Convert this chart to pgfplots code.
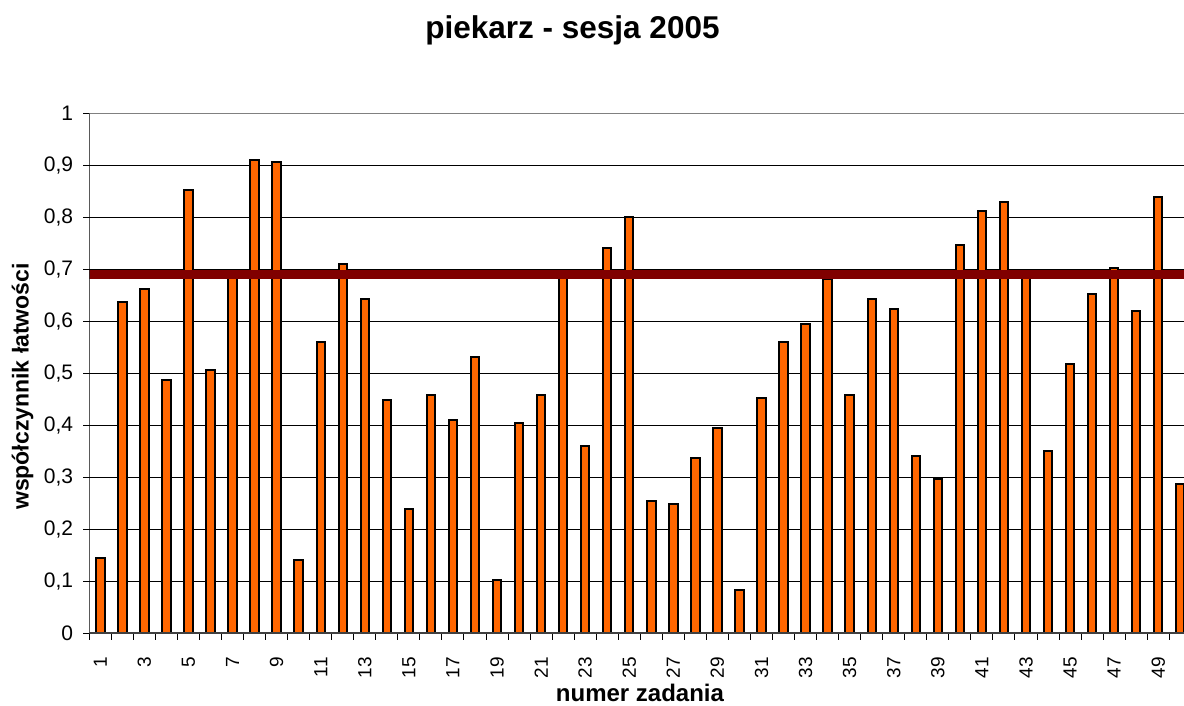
\documentclass[border=0pt]{standalone}
\usepackage{fontspec}
\setmainfont{Liberation Sans}
\usepackage{pgfplots}
\usepackage{pgfplotstable}
\pgfplotsset{compat=1.18}
\definecolor{barorange}{RGB}{255,102,0}
\definecolor{linered}{RGB}{128,0,0}
\pgfplotstableread{
x y
1 0.145
2 0.638
3 0.663
4 0.487
5 0.852
6 0.507
7 0.690
8 0.911
9 0.906
10 0.141
11 0.560
12 0.711
13 0.643
14 0.449
15 0.239
16 0.458
17 0.410
18 0.531
19 0.102
20 0.405
21 0.458
22 0.690
23 0.360
24 0.741
25 0.800
26 0.254
27 0.249
28 0.337
29 0.394
30 0.083
31 0.453
32 0.560
33 0.595
34 0.681
35 0.458
36 0.643
37 0.624
38 0.341
39 0.297
40 0.746
41 0.813
42 0.829
43 0.690
44 0.351
45 0.517
46 0.653
47 0.702
48 0.619
49 0.839
50 0.287
}\datatable
\begin{document}
\begin{tikzpicture}
\begin{axis}[
  at={(44.65pt,-316.65pt)}, anchor=south west,
  scale only axis, width=551pt, height=260pt,
  xmin=0.5, xmax=50.5, ymin=0, ymax=1,
  axis line style={draw=none},
  tick align=outside,
  major tick length=3pt, minor tick length=3.3pt,
  xtick pos=bottom, ytick pos=left,
  xtick={1,3,...,49},
  minor xtick={0.5,1.5,...,50.5},
  major x tick style={draw=none},
  minor x tick style={black, line width=0.5pt},
  ytick={0,0.1,...,1.0},
  major y tick style={black, line width=0.5pt},
  ymajorgrids,
  major grid style={black, line width=0.5pt},
  /pgf/number format/assume math mode=true,
  yticklabel style={font=\fontsize{10.5}{12}\selectfont, xshift=-1.6pt,
    /pgf/number format/.cd, fixed, precision=1, use comma},
  xticklabel style={rotate=90, anchor=east, font=\fontsize{9.5}{11}\selectfont, xshift=-5.5pt},
  clip=true,
]
\addplot[ybar, bar width=4.2pt, fill=barorange, draw=black, line width=1pt] table[x=x,y=y] {\datatable};
\addplot[linered, line width=4.5pt, forget plot] coordinates {(0.5,0.69) (50.5,0.69)};
\draw[black, line width=0.8pt] (rel axis cs:0,0) -- (rel axis cs:0,1);
\draw[black!75, line width=1pt] (rel axis cs:0,0) -- (rel axis cs:1,0);
\draw[gray, line width=1pt] (rel axis cs:0,1) -- (rel axis cs:1,1);
\end{axis}
\begin{scope}[x=0.5pt,y=-0.5pt]
\node[anchor=base, font=\bfseries\fontsize{15.75}{18}\selectfont, inner sep=0pt] at (572.5,39) {piekarz - sesja 2005};
\node[anchor=base, font=\bfseries\fontsize{12}{14}\selectfont, inner sep=0pt] at (640,701) {numer zadania};
\node[rotate=90, font=\bfseries\fontsize{11.5}{14}\selectfont, inner sep=0pt] at (22.6,386.5) {współczynnik łatwości};
\end{scope}
\pgfresetboundingbox
\useasboundingbox (0,0) rectangle (592pt,-353pt);
\end{tikzpicture}
\end{document}
